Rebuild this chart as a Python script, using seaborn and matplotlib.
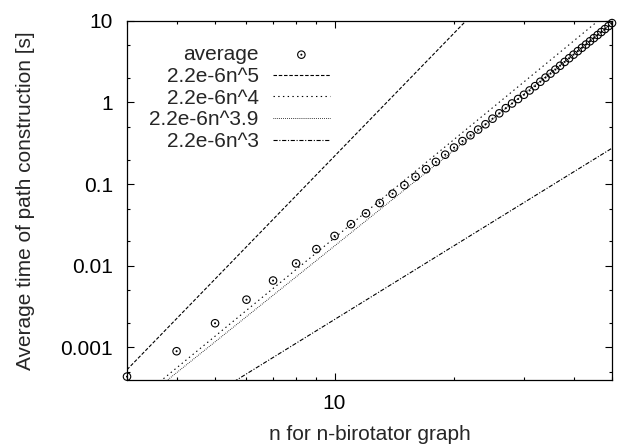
import numpy as np
import seaborn as sns
import matplotlib
matplotlib.use("Agg")
import matplotlib.pyplot as plt
from matplotlib.path import Path
from matplotlib.ticker import LogLocator, NullFormatter, FuncFormatter

# measured average time per n
n = list(range(3, 51))
avg_time = [0.00044, 0.00090, 0.00198, 0.00385, 0.0066, 0.0107, 0.0160, 0.0232,
            0.0323, 0.0439, 0.0586, 0.0762, 0.0970, 0.123, 0.152, 0.187,
            0.229, 0.280, 0.336, 0.396, 0.465, 0.540, 0.632, 0.735,
            0.850, 0.970, 1.10, 1.24, 1.40, 1.58, 1.79, 2.01,
            2.25, 2.52, 2.81, 3.13, 3.47, 3.84, 4.24, 4.66,
            5.11, 5.60, 6.12, 6.68, 7.27, 7.90, 8.58, 9.35]

# reference power lines, value at n=3 and n=50 (straight in log-log)
n_ends = [3, 50]
line_n5 = [0.000535, 687.5]
line_n4 = [0.000178, 13.75]
line_n39 = [0.000160, 9.30]
line_n3 = [0.0000594, 0.275]

line_labels = ["2.2e-6n^5", "2.2e-6n^4", "2.2e-6n^3.9", "2.2e-6n^3"]
line_styles = [(0, (2.5, 1.3)), (0, (1.0, 2.4)), (0, (0.5, 0.9)), (0, (3.0, 1.2, 0.8, 1.2))]
line_widths = [0.8, 0.8, 0.7, 0.8]

sns.set_style("ticks")
plt.rcParams['font.family'] = ['Liberation Sans', 'DejaVu Sans']
plt.rcParams['lines.scale_dashes'] = False

fig = plt.figure(figsize=(6.18, 4.44), dpi=100)
ax = fig.add_axes([127 / 618, 1 - 380 / 444, 485 / 618, 359.3 / 444])

# circle with a dot in the middle, like gnuplot's point
dot_circle = Path.make_compound_path(Path.circle((0, 0), 1.0), Path.circle((0, 0), 0.12))

sns.scatterplot(x=n, y=avg_time, ax=ax, marker=dot_circle, s=29,
                facecolor='none', edgecolor='black', linewidth=0.8,
                label="average", clip_on=False, zorder=3)

for vals, lab, ls, lw in zip([line_n5, line_n4, line_n39, line_n3], line_labels, line_styles, line_widths):
    sns.lineplot(x=n_ends, y=vals, ax=ax, color='black', linewidth=lw,
                 linestyle=ls, label=lab)

ax.set_xscale('log')
ax.set_yscale('log')
ax.set_xlim(3, 50)
ax.set_ylim(0.0004, 10)

ax.xaxis.set_major_locator(LogLocator(base=10))
ax.xaxis.set_minor_locator(LogLocator(base=10, subs=np.arange(2, 10)))
ax.xaxis.set_major_formatter(FuncFormatter(lambda v, _: f"{v:g}"))
ax.xaxis.set_minor_formatter(NullFormatter())
ax.yaxis.set_major_locator(LogLocator(base=10))
ax.yaxis.set_minor_locator(LogLocator(base=10, subs=[2, 5]))
ax.yaxis.set_major_formatter(FuncFormatter(lambda v, _: f"{v:g}"))
ax.yaxis.set_minor_formatter(NullFormatter())

ax.tick_params(which='both', direction='in', top=True, right=True, width=0.8,
               labelsize=15, colors='black')
ax.tick_params(which='major', length=5)
ax.tick_params(which='minor', length=2.5)
ax.tick_params(axis='x', pad=10)
ax.tick_params(axis='y', pad=10)
for sp in ax.spines.values():
    sp.set_linewidth(0.9)
    sp.set_color('black')

ax.set_xlabel("n for n-birotator graph", fontsize=15)
ax.set_ylabel("Average time of path construction [s]", fontsize=15)
ax.xaxis.set_label_coords(0.5, -0.125)
ax.yaxis.set_label_coords(-0.19, 0.5)

handles, labels = ax.get_legend_handles_labels()
order = ["average"] + line_labels
hmap = dict(zip(labels, handles))
ax.legend([hmap[k] for k in order], order, loc='upper right',
          bbox_to_anchor=(0.4186, 0.932), frameon=False, markerfirst=False,
          fontsize=15, handlelength=2.75, handletextpad=0.67, labelspacing=0.13,
          borderpad=0, borderaxespad=0, scatterpoints=1)

fig.savefig("out.png", dpi=100)
